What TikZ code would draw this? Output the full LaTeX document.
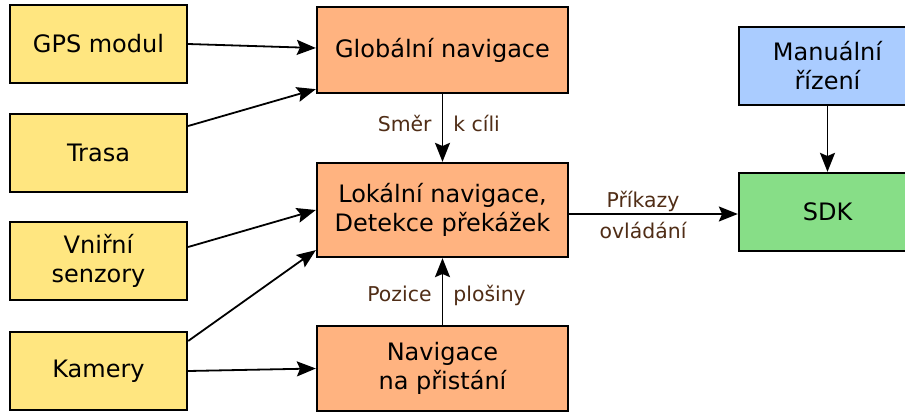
\documentclass[tikz,border=0pt]{standalone}
\usepackage{fontspec}
\setmainfont{DejaVu Sans}
\usetikzlibrary{arrows.meta,calc}
\definecolor{cyel}{HTML}{FFE680}
\definecolor{cora}{HTML}{FFB380}
\definecolor{cblu}{HTML}{AACCFF}
\definecolor{cgrn}{HTML}{87DE87}
\definecolor{clbl}{HTML}{502D16}
\begin{document}
\begin{tikzpicture}[x=0.5pt,y=-0.5pt,
  box/.style={draw=black, line width=1.15pt, align=center, inner sep=0pt,
    font=\fontsize{12}{14.5}\selectfont},
  ybox/.style={box, fill=cyel, minimum width=88.5pt, minimum height=39pt},
  obox/.style={box, fill=cora, minimum width=125.5pt},
  lbl/.style={text=clbl, inner sep=0pt, font=\fontsize{10.2}{12}\selectfont},
  arr/.style={line width=0.9pt, -{Stealth[length=9.5pt,width=7.5pt,inset=1.6pt]}}]
\clip (0,0) rectangle (905,412);
\fill[white] (0,0) rectangle (905,412);
% left inputs
\node[ybox] (gps) at (98.5,44) {GPS modul};
\node[ybox] (trasa) at (98.5,153) {Trasa};
\node[ybox] (vni) at (98.5,261) {Vniřní\\senzory};
\node[ybox] (kam) at (98.5,371) {Kamery};
% middle
\node[obox, minimum height=43pt] (glob) at (442.5,50) {Globální navigace};
\node[obox, minimum height=47pt] (lok) at (442.5,210) {Lokální navigace,\\Detekce překážek};
\node[obox, minimum height=42.5pt] (nav) at (442.5,368.5) {Navigace\\na přistání};
% right
\node[box, fill=cblu, minimum width=88.5pt, minimum height=39pt] (man) at (827.5,66) {Manuální\\řízení};
\node[box, fill=cgrn, minimum width=88.5pt, minimum height=39pt] (sdk) at (827.5,212) {SDK};
% connectors
\draw[arr] (gps.east) -- ([yshift=1pt]glob.west);
\draw[arr] ([yshift=13.5pt]trasa.east) -- ([yshift=2.5pt]glob.south west);
\draw[arr] ([yshift=7pt]vni.east) -- (lok.west);
\draw[arr] ([yshift=15pt]kam.east) -- ([yshift=4pt]lok.south west);
\draw[arr] (kam.east) -- (nav.west);
\draw[arr] (glob.south) -- (lok.north);
\draw[arr] (nav.north) -- (lok.south);
\draw[arr] ([yshift=-2pt]lok.east) -- ([yshift=-2pt]lok.east -| sdk.west);
\draw[arr] (man.south) -- (sdk.north);
% labels
\node[lbl, anchor=base east] (l1) at (432,131) {Směr};
\node[lbl, anchor=base west] (l2) at (453,131) {k cíli};
\node[lbl, anchor=base east] (l3) at (432,301) {Pozice};
\node[lbl, anchor=base west] (l4) at (453,301) {plošiny};
\node[lbl, anchor=base] (l5) at (643,207) {Příkazy};
\node[lbl, anchor=base] (l6) at (643,238) {ovládání};
\end{tikzpicture}
\end{document}
